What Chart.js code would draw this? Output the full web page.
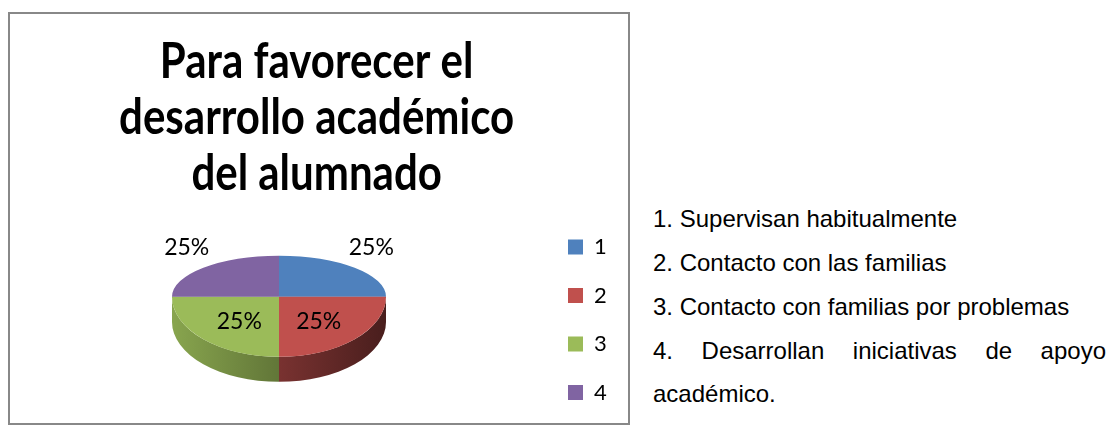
<!DOCTYPE html>
<html><head><meta charset="utf-8">
<script src="https://cdn.jsdelivr.net/npm/chart.js@4.4.0/dist/chart.umd.min.js"></script>
<style>
html,body{margin:0;padding:0;overflow:hidden;background:#fff;width:1119px;height:426px;}
#frame{position:absolute;left:8px;top:12px;width:618px;height:409px;border:2px solid #888;}
#wrap{position:absolute;left:10px;top:13px;width:618px;height:417px;}
#notes{position:absolute;left:653px;top:197px;width:453px;font-family:'Liberation Sans',Arial,sans-serif;font-size:24px;line-height:43.85px;color:#000;}
#notes p{margin:0;text-align:justify;}
</style></head>
<body>
<div id="frame"></div>
<div id="wrap"><canvas id="c"></canvas></div>
<div id="notes"></div>
<script>
// ---- data ----
const categories = ['1', '2', '3', '4'];
const values = [25, 25, 25, 25];
const titleLines = ['Para favorecer el', 'desarrollo académico', 'del alumnado'];
const noteLines = [
  '1. Supervisan habitualmente',
  '2. Contacto con las familias',
  '3. Contacto con familias por problemas',
  '4. Desarrollan iniciativas de apoyo académico.'
];
const sliceColors = ['#4F81BD', '#C0504D', '#9BBB59', '#8064A2'];

// ---- notes text ----
const notesDiv = document.getElementById('notes');
noteLines.forEach(t => { const p = document.createElement('p'); p.textContent = t; notesDiv.appendChild(p); });

const TITLE_STRETCH = 1.2;

function shade(hex, f) {
  const n = parseInt(hex.slice(1), 16);
  const r = Math.round(((n >> 16) & 255) * f), g = Math.round(((n >> 8) & 255) * f), b = Math.round((n & 255) * f);
  return 'rgb(' + r + ',' + g + ',' + b + ')';
}
function proj(chart) {
  const arc = chart.getDatasetMeta(0).data[0];
  const r = arc.outerRadius;
  const kTop = 0.385, kBot = 0.56, depth = r * 0.234;
  return { r, kTop, kBot, depth, cx: arc.x, cy: arc.y - (r * (kBot - kTop) + depth) / 2 };
}
const titleStretch = {
  id: 'titleStretch',
  afterLayout(chart) {
    const tb = chart.titleBlock;
    if (!tb || tb._stretched) return;
    tb._stretched = true;
    const orig = tb.draw;
    tb.draw = function (area) {
      const ctx = this.ctx;
      ctx.save();
      ctx.translate(0, this.top);
      ctx.scale(1, TITLE_STRETCH);
      ctx.translate(0, -this.top);
      orig.call(this, area);
      ctx.restore();
    };
  }
};
const pie3d = {
  id: 'pie3d',
  beforeDatasetsDraw(chart) {
    const ctx = chart.ctx;
    const arcs = chart.getDatasetMeta(0).data;
    const P = proj(chart);
    const W = chart.width, H = chart.height, TWO = Math.PI * 2;
    arcs.forEach(arc => {
      let s = arc.startAngle, e = arc.endAngle;
      while (s < 0) { s += TWO; e += TWO; }
      while (s >= TWO) { s -= TWO; e -= TWO; }
      [[0, Math.PI], [TWO, TWO + Math.PI]].forEach(([lo, hi]) => {
        const a = Math.max(s, lo), b = Math.min(e, hi);
        if (b <= a) return;
        const base = arc.options.backgroundColor;
        const grad = ctx.createLinearGradient(P.cx - P.r, 0, P.cx + P.r, 0);
        grad.addColorStop(0, shade(base, 0.88));
        grad.addColorStop(1, shade(base, 0.38));
        ctx.beginPath();
        ctx.ellipse(P.cx, P.cy, P.r, P.r * P.kBot, 0, a, b);
        ctx.ellipse(P.cx, P.cy + P.depth, P.r, P.r * P.kBot, 0, b, a, true);
        ctx.closePath();
        ctx.fillStyle = grad;
        ctx.fill();
      });
    });
    [[0, P.cy + 1, P.kTop], [P.cy, H, P.kBot]].forEach(([y0, y1, k]) => {
      ctx.save();
      ctx.beginPath(); ctx.rect(0, y0, W, y1 - y0); ctx.clip();
      ctx.translate(P.cx, P.cy); ctx.scale(1, k); ctx.translate(-arcs[0].x, -arcs[0].y);
      arcs.forEach(a => a.draw(ctx));
      ctx.restore();
    });
    return false;
  },
  afterDraw(chart) {
    const ctx = chart.ctx, P = proj(chart);
    const arcs = chart.getDatasetMeta(0).data;
    const total = values.reduce((s, v) => s + v, 0);
    ctx.save();
    ctx.font = '23px Lato';
    ctx.fillStyle = '#000';
    ctx.textAlign = 'center';
    ctx.textBaseline = 'middle';
    arcs.forEach((arc, i) => {
      const m = (arc.startAngle + arc.endAngle) / 2;
      const c = Math.cos(m), s = Math.sin(m);
      let x, y;
      if (s < 0) { x = P.cx + c * P.r * 1.22; y = P.cy + s * P.r * P.kTop * 1.2 - 14; }
      else { x = P.cx + c * P.r * 0.525; y = P.cy + s * P.r * P.kBot * 0.525 + 2.5; }
      ctx.fillText(Math.round(values[i] / total * 100) + '%', x, y);
    });
    ctx.restore();
  }
};

new Chart(document.getElementById('c'), {
  type: 'pie',
  data: {
    labels: categories,
    datasets: [{ data: values, backgroundColor: sliceColors, borderWidth: 0, radius: 107 }]
  },
  options: {
    responsive: true,
    maintainAspectRatio: false,
    devicePixelRatio: 1,
    animation: false,
    events: [],
    layout: { padding: { left: 6.5, right: 11.24, top: 0, bottom: 0 } },
    plugins: {
      tooltip: { enabled: false },
      title: {
        display: true,
        text: titleLines,
        color: '#000',
        font: { family: 'Lato', size: 42, weight: 'bold', lineHeight: (56 / 1.2) / 42 },
        padding: { top: 17.1, bottom: 37.4 }
      },
      legend: {
        position: 'right',
        align: 'end',
        labels: {
          boxWidth: 15, boxHeight: 15, padding: 26.5, color: '#000',
          font: { family: 'Lato', size: 22 }
        }
      }
    }
  },
  plugins: [titleStretch, pie3d]
});
</script>
</body></html>
